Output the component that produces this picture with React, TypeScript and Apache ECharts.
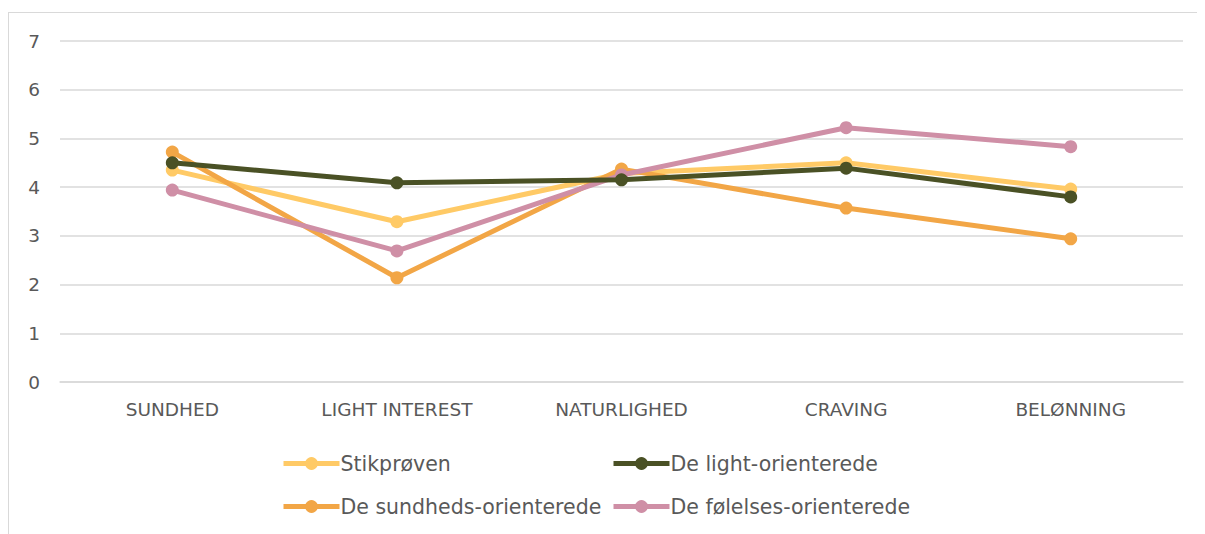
import React, { useEffect, useRef } from "react";
import * as echarts from "echarts";

const categories = ["SUNDHED", "LIGHT INTEREST", "NATURLIGHED", "CRAVING", "BELØNNING"];
const yTicks = [0, 1, 2, 3, 4, 5, 6, 7];
const seriesNames = ["Stikprøven", "De light-orienterede", "De sundheds-orienterede", "De følelses-orienterede"];
const stikproeven = [4.35, 3.29, 4.28, 4.5, 3.96];
const lightOrient = [4.5, 4.09, 4.15, 4.39, 3.8];
const sundhedsOrient = [4.72, 2.14, 4.37, 3.57, 2.94];
const foelelsesOrient = [3.94, 2.69, 4.25, 5.22, 4.83];
const colors = ["#FFCA66", "#4A5125", "#F2A646", "#CF8FA6"];

export default function App() {
  const ref = useRef<HTMLDivElement>(null);
  useEffect(() => {
    if (!ref.current) return;
    const chart = echarts.init(ref.current, undefined, { renderer: "svg" });
    const font = "'DejaVu Sans', 'Noto Sans', sans-serif";
    const data = [stikproeven, lightOrient, sundhedsOrient, foelelsesOrient];
    const legendPos = [
      { left: 267, top: 435 },
      { left: 597, top: 435 },
      { left: 267, top: 478 },
      { left: 597, top: 478 },
    ];
    chart.setOption({
      animation: false,
      backgroundColor: "#ffffff",
      grid: { left: 51, right: 16, top: 28, bottom: 169, containLabel: false },
      xAxis: {
        type: "category",
        data: categories,
        boundaryGap: true,
        axisLine: { show: true, lineStyle: { color: "#d9d9d9", width: 1.5 } },
        axisTick: { show: false },
        axisLabel: { color: "#595959", fontSize: 18.5, fontFamily: font, margin: 18 },
      },
      yAxis: {
        type: "value",
        min: yTicks[0],
        max: yTicks[yTicks.length - 1],
        interval: 1,
        axisLine: { show: false },
        axisTick: { show: false },
        axisLabel: { color: "#595959", fontSize: 18.5, fontFamily: font, margin: 20 },
        splitLine: { lineStyle: { color: "#d9d9d9", width: 1.5 } },
      },
      legend: seriesNames.map((n, i) => ({
        data: [n],
        left: legendPos[i].left,
        top: legendPos[i].top,
        itemWidth: 56,
        itemHeight: 16,
        itemGap: 4,
        lineStyle: { width: 5 },
        textStyle: { color: "#595959", fontSize: 20.5, fontFamily: font, padding: [0, 0, 0, -4] },
      })),
      series: seriesNames.map((n, i) => ({
        name: n,
        type: "line",
        data: data[i],
        symbol: "circle",
        symbolSize: 13,
        lineStyle: { width: 5, color: colors[i] },
        itemStyle: { color: colors[i] },
        z: [2, 5, 3, 4][i],
      })),
    });
    return () => chart.dispose();
  }, []);
  return (
    <div style={{ marginTop: 4, height: 522, overflow: "hidden" }}>
      <div
        ref={ref}
        style={{ width: 1190, height: 538, border: "1px solid #d9d9d9" }}
      />
    </div>
  );
}
